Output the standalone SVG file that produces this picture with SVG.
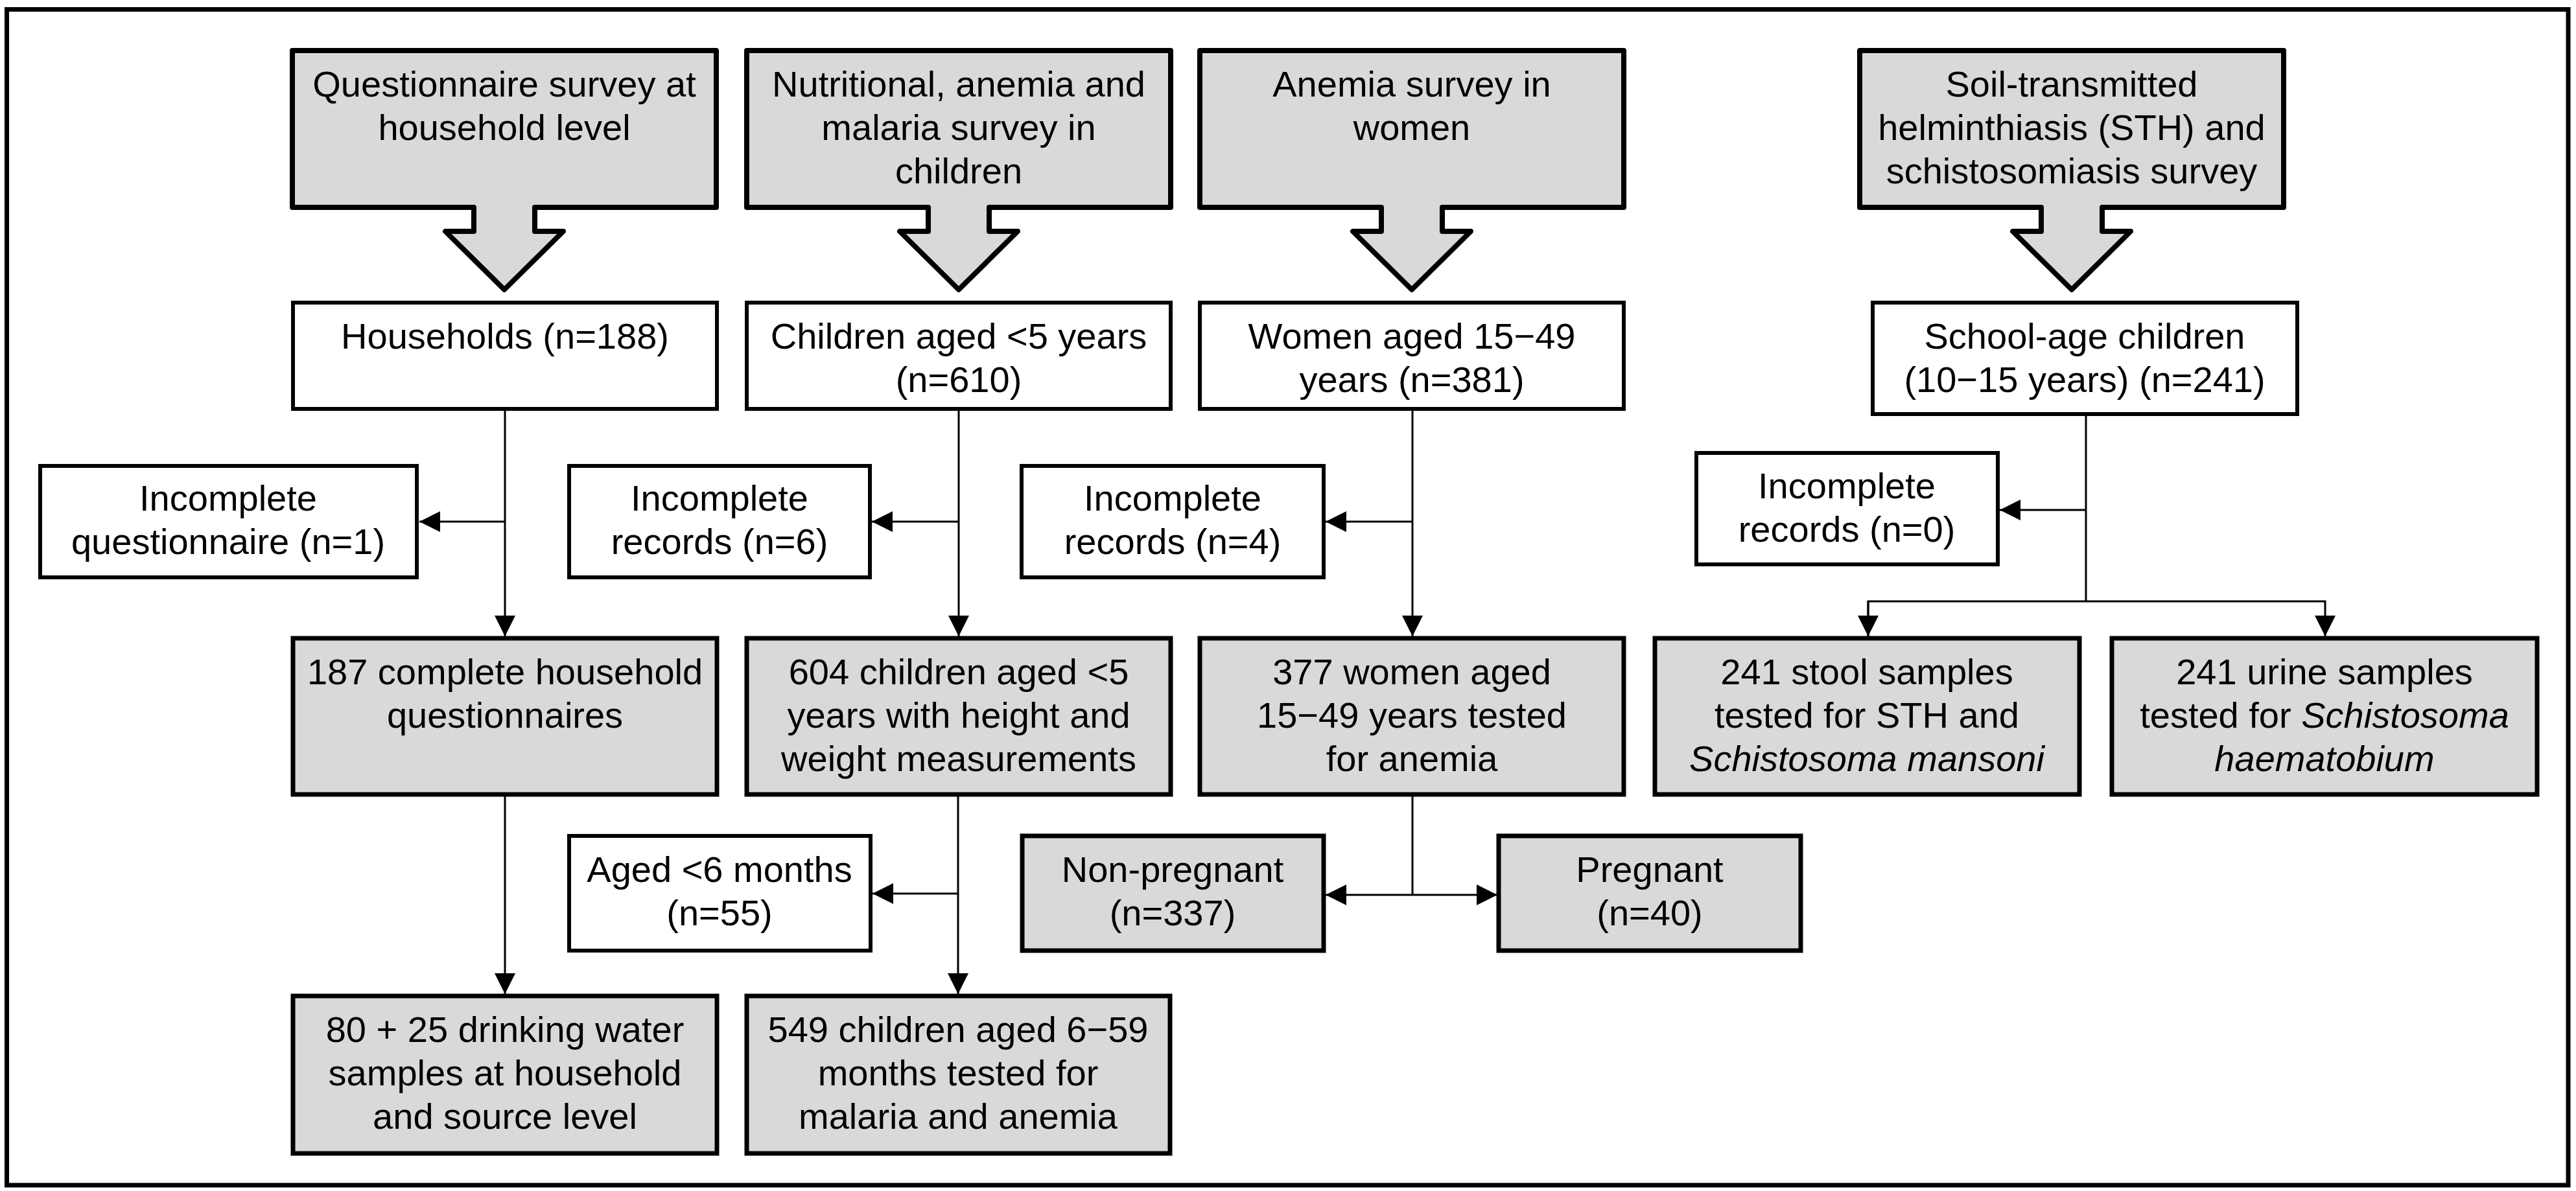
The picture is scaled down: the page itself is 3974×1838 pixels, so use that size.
<svg xmlns="http://www.w3.org/2000/svg" width="3974" height="1838" viewBox="0 0 3974 1838">
<style>
.t{font-family:"Liberation Sans",Arial,sans-serif;font-size:56px;fill:#000;text-anchor:middle}
.i{font-style:italic}
.hdr{fill:#d9d9d9;stroke:#000;stroke-width:8;stroke-linejoin:round}
.w{fill:#fff;stroke:#000;stroke-width:6}
.g{fill:#d9d9d9;stroke:#000;stroke-width:7}
.c{fill:none;stroke:#000;stroke-width:3}
</style>
<defs>
<marker id="ah" viewBox="0 0 32 32" markerWidth="32" markerHeight="32" markerUnits="userSpaceOnUse" refX="32" refY="16" orient="auto-start-reverse">
<path d="M0,0 L32,16 L0,32 Z" fill="#000"/>
</marker>
</defs>
<rect x="0" y="0" width="3974" height="1838" fill="#fff"/>
<rect x="10.5" y="14.5" width="3951.5" height="1814.5" fill="none" stroke="#000" stroke-width="7"/>

<g id="connectors">
<path class="c" d="M779,631 V982" marker-end="url(#ah)"/>
<path class="c" d="M779,805 H647" marker-end="url(#ah)"/>
<path class="c" d="M1479,631 V982" marker-end="url(#ah)"/>
<path class="c" d="M1479,805 H1345" marker-end="url(#ah)"/>
<path class="c" d="M2179,631 V982" marker-end="url(#ah)"/>
<path class="c" d="M2179,805 H2045" marker-end="url(#ah)"/>
<path class="c" d="M3218,639 V928"/>
<path class="c" d="M3218,787 H3085" marker-end="url(#ah)"/>
<path class="c" d="M2882,982 V928 H3587 V982" marker-end="url(#ah)"/>
<path class="c" d="M2882,928 V982" marker-end="url(#ah)"/>
<path class="c" d="M779,1226 V1534" marker-end="url(#ah)"/>
<path class="c" d="M1478,1226 V1534" marker-end="url(#ah)"/>
<path class="c" d="M1478,1379 H1346" marker-end="url(#ah)"/>
<path class="c" d="M2179,1226 V1381"/>
<path class="c" d="M2045,1381 H2310" marker-start="url(#ah)" marker-end="url(#ah)"/>
</g>

<g id="h1">
<path class="hdr" d="M451,78 H1105 V320 H825 V357 H869 L778,447 L687,357 H731 V320 H451 Z"/>
<text class="t" x="778" y="149">Questionnaire survey at</text>
<text class="t" x="778" y="216">household level</text>
</g>
<g id="h2">
<path class="hdr" d="M1152,78 H1806 V320 H1526 V357 H1570 L1479,447 L1388,357 H1432 V320 H1152 Z"/>
<text class="t" x="1479" y="149">Nutritional, anemia and</text>
<text class="t" x="1479" y="216">malaria survey in</text>
<text class="t" x="1479" y="283">children</text>
</g>
<g id="h3">
<path class="hdr" d="M1851,78 H2505 V320 H2225 V357 H2269 L2178,447 L2087,357 H2131 V320 H1851 Z"/>
<text class="t" x="2178" y="149">Anemia survey in</text>
<text class="t" x="2178" y="216">women</text>
</g>
<g id="h4">
<path class="hdr" d="M2869,78 H3523 V320 H3243 V357 H3287 L3196,447 L3105,357 H3149 V320 H2869 Z"/>
<text class="t" x="3196" y="149">Soil-transmitted</text>
<text class="t" x="3196" y="216">helminthiasis (STH) and</text>
<text class="t" x="3196" y="283">schistosomiasis survey</text>
</g>

<g id="households">
<rect class="w" x="452" y="467" width="654" height="164"/>
<text class="t" x="779" y="538">Households (n=188)</text>
</g>
<g id="children">
<rect class="w" x="1152" y="467" width="654" height="164"/>
<text class="t" x="1479" y="538">Children aged &lt;5 years</text>
<text class="t" x="1479" y="605">(n=610)</text>
</g>
<g id="women">
<rect class="w" x="1851" y="467" width="654" height="164"/>
<text class="t" x="2178" y="538">Women aged 15−49</text>
<text class="t" x="2178" y="605">years (n=381)</text>
</g>
<g id="school">
<rect class="w" x="2889" y="467" width="655" height="172"/>
<text class="t" x="3216" y="538">School-age children</text>
<text class="t" x="3216" y="605">(10−15 years) (n=241)</text>
</g>

<g id="inc-q">
<rect class="w" x="62" y="719" width="581" height="172"/>
<text class="t" x="352" y="788">Incomplete</text>
<text class="t" x="352" y="855">questionnaire (n=1)</text>
</g>
<g id="inc-6">
<rect class="w" x="878" y="719" width="464" height="172"/>
<text class="t" x="1110" y="788">Incomplete</text>
<text class="t" x="1110" y="855">records (n=6)</text>
</g>
<g id="inc-4">
<rect class="w" x="1576" y="719" width="466" height="172"/>
<text class="t" x="1809" y="788">Incomplete</text>
<text class="t" x="1809" y="855">records (n=4)</text>
</g>
<g id="inc-0">
<rect class="w" x="2617" y="699" width="465" height="172"/>
<text class="t" x="2849" y="769">Incomplete</text>
<text class="t" x="2849" y="836">records (n=0)</text>
</g>

<g id="complete-hh">
<rect class="g" x="452" y="985" width="654" height="241"/>
<text class="t" x="779" y="1056">187 complete household</text>
<text class="t" x="779" y="1123">questionnaires</text>
</g>
<g id="children-604">
<rect class="g" x="1152" y="985" width="654" height="241"/>
<text class="t" x="1479" y="1056">604 children aged &lt;5</text>
<text class="t" x="1479" y="1123">years with height and</text>
<text class="t" x="1479" y="1190">weight measurements</text>
</g>
<g id="women-377">
<rect class="g" x="1851" y="985" width="654" height="241"/>
<text class="t" x="2178" y="1056">377 women aged</text>
<text class="t" x="2178" y="1123">15−49 years tested</text>
<text class="t" x="2178" y="1190">for anemia</text>
</g>
<g id="stool">
<rect class="g" x="2553" y="985" width="655" height="241"/>
<text class="t" x="2880" y="1056">241 stool samples</text>
<text class="t" x="2880" y="1123">tested for STH and</text>
<text class="t i" x="2880" y="1190">Schistosoma mansoni</text>
</g>
<g id="urine">
<rect class="g" x="3258" y="985" width="656" height="241"/>
<text class="t" x="3586" y="1056">241 urine samples</text>
<text class="t" x="3586" y="1123">tested for <tspan class="i">Schistosoma</tspan></text>
<text class="t i" x="3586" y="1190">haematobium</text>
</g>

<g id="aged6">
<rect class="w" x="878" y="1290" width="465" height="177"/>
<text class="t" x="1110" y="1361">Aged &lt;6 months</text>
<text class="t" x="1110" y="1428">(n=55)</text>
</g>
<g id="nonpregnant">
<rect class="g" x="1577" y="1290" width="465" height="177"/>
<text class="t" x="1809" y="1361">Non-pregnant</text>
<text class="t" x="1809" y="1428">(n=337)</text>
</g>
<g id="pregnant">
<rect class="g" x="2312" y="1290" width="466" height="177"/>
<text class="t" x="2545" y="1361">Pregnant</text>
<text class="t" x="2545" y="1428">(n=40)</text>
</g>

<g id="water">
<rect class="g" x="452" y="1537" width="654" height="243"/>
<text class="t" x="779" y="1608">80 + 25 drinking water</text>
<text class="t" x="779" y="1675">samples at household</text>
<text class="t" x="779" y="1742">and source level</text>
</g>
<g id="children-549">
<rect class="g" x="1152" y="1537" width="653" height="243"/>
<text class="t" x="1478" y="1608">549 children aged 6−59</text>
<text class="t" x="1478" y="1675">months tested for</text>
<text class="t" x="1478" y="1742">malaria and anemia</text>
</g>
</svg>
